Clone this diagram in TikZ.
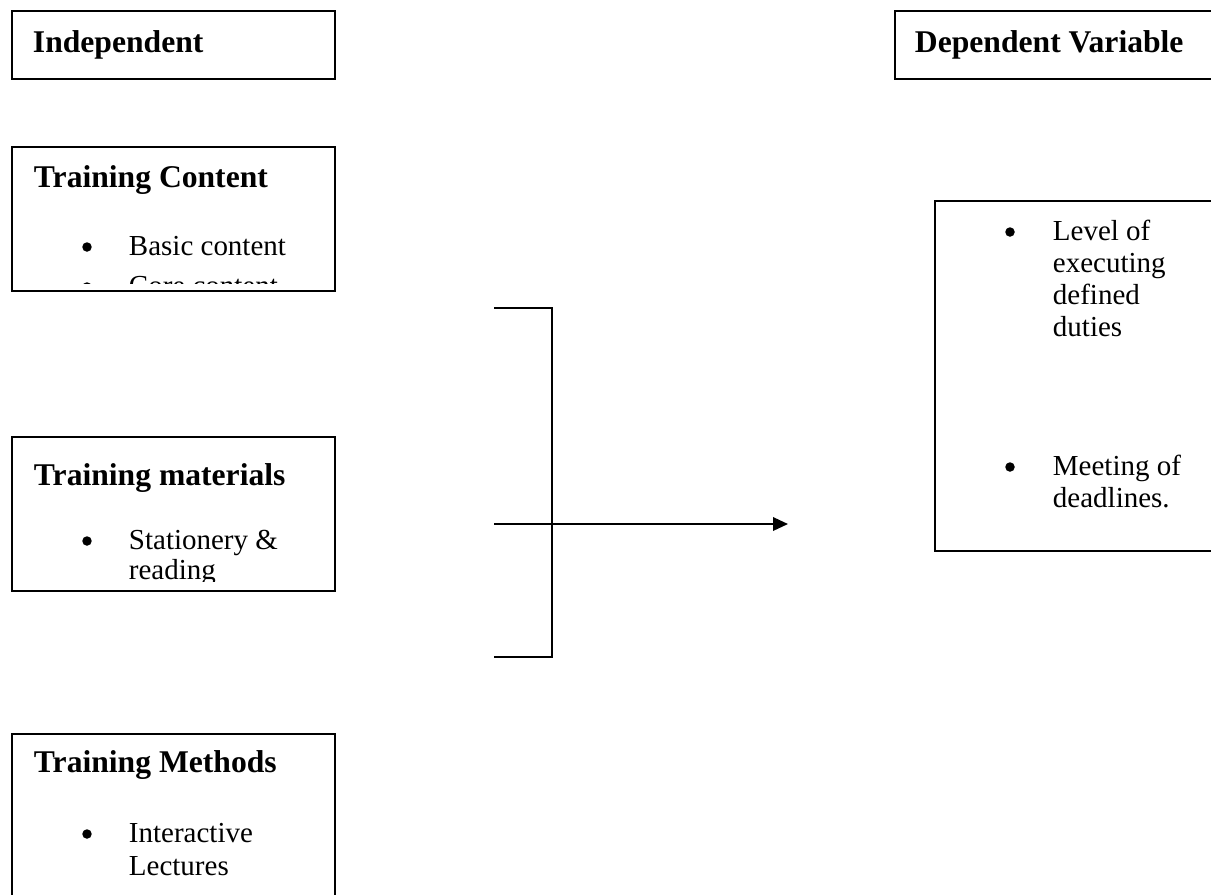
\documentclass[tikz,border=0pt]{standalone}
\usepackage{fontspec}
\setmainfont{Liberation Serif}
\usetikzlibrary{arrows.meta}

\newcommand{\headsize}{\fontsize{18}{21}\selectfont\bfseries}
\newcommand{\itemsize}{\fontsize{16.5}{19}\selectfont}

\tikzset{
  frame/.style={draw, anchor=north west, inner sep=0pt},
  head/.style={anchor=base west, inner sep=0pt, font=\headsize},
  itemline/.style={anchor=base west, inner sep=0pt, font=\itemsize},
  dot/.style={circle, fill, inner sep=0pt, minimum size=0.19cm},
}

\begin{document}
\begin{tikzpicture}[x=0.02cm, y=-0.02cm, line width=1.1pt]
\useasboundingbox (0,0) rectangle (1211,894);

% independent side
\node (indep) [frame, minimum width=6.46cm, minimum height=1.36cm] at (11,10) {};
\node (indeptitle) [head] at (32,52) {Independent};

\node (content) [frame, minimum width=6.46cm, minimum height=2.88cm] at (11,146) {};
\begin{scope}
\clip (11,146) rectangle (334,283);
\node (contenttitle) [head] at (33,187) {Training Content};
\node (basicdot) [dot] at (87,247) {};
\node (basic) [itemline] at (128,255) {Basic content};
\node (coredot) [dot] at (87,287) {};
\node (core) [itemline] at (128,295) {Core content};
\end{scope}

\node (materials) [frame, minimum width=6.46cm, minimum height=3.08cm] at (11,436) {};
\begin{scope}
\clip (11,436) rectangle (334,581);
\node (materialstitle) [head] at (33,485) {Training materials};
\node (stationdot) [dot] at (87,541) {};
\node (station) [itemline] at (128,549) {Stationery \&};
\node (reading) [itemline] at (128,579) {reading};
\end{scope}

\node (methods) [frame, minimum width=6.46cm, minimum height=4cm] at (11,733) {};
\node (methodstitle) [head] at (33,772) {Training Methods};
\node (interdot) [dot] at (87,834) {};
\node (inter) [itemline] at (128,842) {Interactive};
\node (lectures) [itemline] at (128,875) {Lectures};

% dependent side
\node (dep) [frame, minimum width=6.92cm, minimum height=1.36cm] at (894,10) {};
\node (deptitle) [head] at (914,52) {Dependent Variable};

\node (outcome) [frame, minimum width=6.2cm, minimum height=7cm] at (934,200) {};
\node (leveldot) [dot] at (1010,232) {};
\node (level1) [itemline] at (1052,240) {Level of};
\node (level2) [itemline] at (1052,272) {executing};
\node (level3) [itemline] at (1052,304) {defined};
\node (level4) [itemline] at (1052,336) {duties};
\node (meetdot) [dot] at (1010,467) {};
\node (meet1) [itemline] at (1052,475) {Meeting of};
\node (meet2) [itemline] at (1052,507) {deadlines.};

% bracket and arrow
\coordinate (brtop) at (494,308);
\coordinate (spinetop) at (552,308);
\coordinate (spinebot) at (552,657);
\coordinate (brbot) at (494,657);
\coordinate (tail) at (494,524);
\coordinate (tip) at (788,524);
\draw (brtop) -- (spinetop) -- (spinebot) -- (brbot);
\draw [-{Triangle[length=0.3cm, width=0.27cm]}] (tail) -- (tip);
\end{tikzpicture}
\end{document}
